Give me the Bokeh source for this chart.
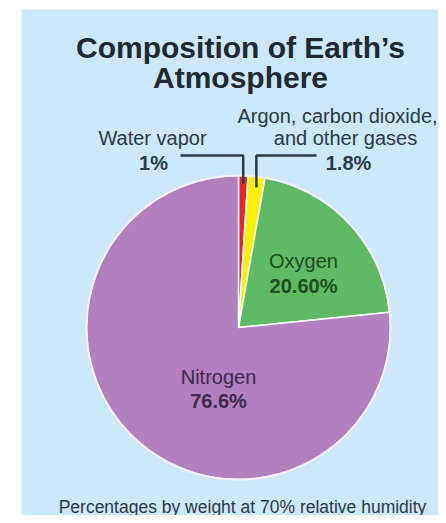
import math
from bokeh.plotting import figure
from bokeh.models import Range1d, ColumnDataSource
from bokeh.core.properties import value
from bokeh.embed import file_html
from bokeh.resources import INLINE

# ---- data ----
gases = ["Water vapor", "Argon, carbon dioxide, and other gases", "Oxygen", "Nitrogen"]
percents = [1.0, 1.8, 20.6, 76.6]
pct_labels = ["1%", "1.8%", "20.60%", "76.6%"]
colors = ["#e3262d", "#fff000", "#5fbb63", "#b27fbf"]

FONT = value("Liberation Sans")

W, H = 438, 515
p = figure(width=W, height=H, output_backend="svg", toolbar_location=None,
           x_range=Range1d(21, 438), y_range=Range1d(-515, -9),
           min_border_left=21, min_border_top=9, min_border_right=0, min_border_bottom=0)
p.axis.visible = False
p.grid.visible = False
p.outline_line_color = None
p.background_fill_color = "#cde8fa"
p.border_fill_color = "white"

cx, cy, R = 238, -327, 152

total = sum(percents)
starts, ends = [], []
acc = 0.0
for v in percents:
    starts.append(math.pi / 2 - 2 * math.pi * acc / total)
    acc += v
    ends.append(math.pi / 2 - 2 * math.pi * acc / total)

src = ColumnDataSource(dict(start=starts, end=ends, color=colors, gas=gases))
p.wedge(x=cx, y=cy, radius=R, start_angle="start", end_angle="end", direction="clock",
        fill_color="color", line_color="white", line_width=1.5, source=src)
p.circle(x=cx, y=cy, radius=R, fill_color=None, line_color="#f6eef8", line_width=2)

# title
p.text(x=[240, 240], y=[-47, -77], text=["Composition of Earth\u2019s", "Atmosphere"],
       text_font=FONT, text_font_style="bold", text_font_size="30px",
       text_color="#1e2a33", text_align="center", text_baseline="alphabetic")

# callout labels
p.text(x=[152], y=[-137], text=[gases[0]],
       text_font=FONT, text_font_size="20px",
       text_color="#2b3a44", text_align="center", text_baseline="alphabetic")
p.text(x=[153], y=[-162], text=[pct_labels[0]],
       text_font=FONT, text_font_style="bold", text_font_size="20px",
       text_color="#2b3a44", text_align="center", text_baseline="alphabetic")
p.text(x=[337, 345], y=[-115, -137], text=["Argon, carbon dioxide,", "and other gases"],
       text_font=FONT, text_font_size="20px",
       text_color="#2b3a44", text_align="center", text_baseline="alphabetic")
p.text(x=[348], y=[-162], text=[pct_labels[1]],
       text_font=FONT, text_font_style="bold", text_font_size="20px",
       text_color="#2b3a44", text_align="center", text_baseline="alphabetic")

# leader lines (vertical drop at the middle of each small slice)
def mid_x(i, r):
    a = (starts[i] + ends[i]) / 2
    return cx + r * math.cos(a)

x1 = mid_x(0, 150)
x2 = mid_x(1, 150)
p.line(x=[180, x1, x1], y=[-155, -155, -183], line_color="#2b3a40", line_width=2.5)
p.line(x=[316, x2, x2], y=[-155, -155, -187], line_color="#2b3a40", line_width=2.5)

# in-slice labels
p.text(x=[303], y=[-260], text=[gases[2]], text_font=FONT, text_font_size="20px",
       text_color="#1f4d24", text_align="center", text_baseline="alphabetic")
p.text(x=[303], y=[-285], text=[pct_labels[2]], text_font=FONT, text_font_style="bold",
       text_font_size="20px", text_color="#1f4d24", text_align="center", text_baseline="alphabetic")
p.text(x=[218], y=[-376], text=[gases[3]], text_font=FONT, text_font_size="20px",
       text_color="#3e2b4a", text_align="center", text_baseline="alphabetic")
p.text(x=[218], y=[-400], text=[pct_labels[3]], text_font=FONT, text_font_style="bold",
       text_font_size="20px", text_color="#3e2b4a", text_align="center", text_baseline="alphabetic")

# footnote
p.text(x=[242], y=[-506], text=["Percentages by weight at 70% relative humidity"],
       text_font=FONT, text_font_size="17.5px", text_color="#2b3a44",
       text_align="center", text_baseline="alphabetic")

open("out.html", "w").write(file_html(p, INLINE))
